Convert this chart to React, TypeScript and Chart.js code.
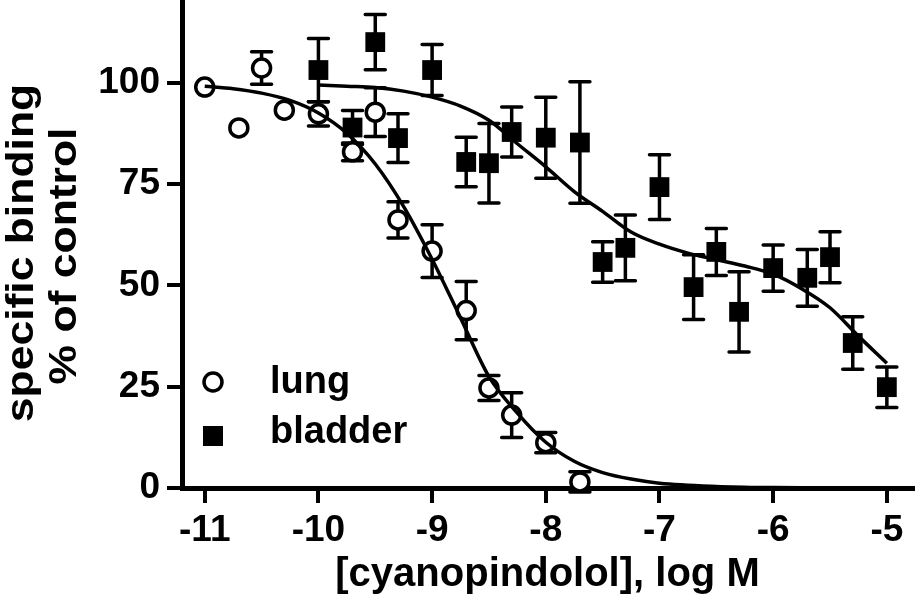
import React, { useEffect, useRef } from 'react';
import { Chart, registerables } from 'chart.js';

Chart.register(...registerables);

const FONT = '"Liberation Sans", Arial, Helvetica, sans-serif';

// measured points (mean +/- error), x = log M
const lungX = [-11, -10.7, -10.5, -10.3, -10, -9.7, -9.5, -9.3, -9, -8.7, -8.5, -8.3, -8, -7.7];
const lungY = [99.0, 88.9, 103.7, 93.3, 92.4, 83.0, 92.8, 66.2, 58.5, 43.8, 24.7, 18.0, 11.2, 1.5];
const lungErr = [0, 0, 4, 0, 3, 2.2, 6, 4.5, 6.5, 7.2, 3.1, 5.5, 2.5, 2.5];

const bladderX = [
  -10, -9.7, -9.5, -9.3, -9, -8.7, -8.5, -8.3, -8, -7.7, -7.5, -7.3, -7, -6.7, -6.5, -6.3, -6, -5.7,
  -5.5, -5.3, -5,
];
const bladderY = [
  103.2, 89.0, 110.1, 86.4, 103.2, 80.5, 80.2, 87.9, 86.5, 85.3, 55.8, 59.3, 74.3, 49.6, 58.3, 43.5,
  54.3, 51.9, 57.0, 35.8, 24.9,
];
const bladderErr = [
  7.8, 4.2, 6.8, 6, 6.3, 6.1, 9.8, 6.2, 10, 15, 5, 8.1, 8, 8, 5.8, 9.9, 5.7, 7, 6.3, 6.5, 5,
];

// fitted curves
const lungFitX = [
  -11, -10.75, -10.5, -10.25, -10, -9.75, -9.5, -9.25, -9, -8.75, -8.5, -8.25, -8, -7.75, -7.5, -7.25,
  -7, -6.5, -6, -5.5, -5,
];
const lungFitY = [
  99.2, 98.6, 97.5, 95.7, 92.6, 87.6, 80, 69.5, 56.5, 42, 27.5, 18.5, 11.3, 6.6, 3.8, 2.2, 1.2, 0.4,
  0.1, 0, 0,
];
const bladderFitX = [
  -10, -9.75, -9.5, -9.25, -9, -8.75, -8.5, -8.25, -8, -7.75, -7.5, -7.25, -7, -6.75, -6.5, -6.25, -6,
  -5.75, -5.5, -5.25, -5,
];
const bladderFitY = [
  99.5, 99.2, 98.9, 98, 96.5, 94.3, 90.8, 85, 79.3, 73.2, 68.3, 63.2, 60.2, 58, 56.4, 54.8, 52.8, 49.2,
  44.5, 37.5, 30.8,
];

const xTicks = [-11, -10, -9, -8, -7, -6, -5];
const yTicks = [0, 25, 50, 75, 100];
const seriesNames = ['lung', 'bladder'];
const xTitle = '[cyanopindolol], log M';
const yTitle = ['specific binding', '% of control'];

const toPoints = (xs: number[], ys: number[]) => xs.map((x, i) => ({ x, y: ys[i] }));

const errorBars = {
  id: 'errorBars',
  beforeDatasetsDraw(chart: any) {
    const { ctx } = chart;
    const xs = chart.scales.x;
    const ys = chart.scales.y;
    const sets: [number[], number[], number[]][] = [
      [lungX, lungY, lungErr],
      [bladderX, bladderY, bladderErr],
    ];
    ctx.save();
    ctx.strokeStyle = '#000';
    ctx.lineWidth = 3.5;
    ctx.lineCap = 'round';
    sets.forEach(([px, py, pe]) => {
      px.forEach((xv, i) => {
        if (!pe[i]) return;
        const x = xs.getPixelForValue(xv);
        const top = ys.getPixelForValue(py[i] + pe[i]);
        const bot = ys.getPixelForValue(py[i] - pe[i]);
        ctx.beginPath();
        ctx.moveTo(x, top);
        ctx.lineTo(x, bot);
        ctx.moveTo(x - 10, top);
        ctx.lineTo(x + 10, top);
        ctx.moveTo(x - 10, bot);
        ctx.lineTo(x + 10, bot);
        ctx.stroke();
      });
    });
    ctx.restore();
  },
};

const legendAndTitle = {
  id: 'legendAndTitle',
  afterDraw(chart: any) {
    const { ctx, chartArea } = chart;
    ctx.save();
    // legend
    const lx = chartArea.left + 31;
    ctx.lineWidth = 3.5;
    ctx.strokeStyle = '#000';
    ctx.fillStyle = '#fff';
    ctx.beginPath();
    ctx.arc(lx, chartArea.bottom - 106, 9, 0, Math.PI * 2);
    ctx.fill();
    ctx.stroke();
    ctx.fillStyle = '#000';
    ctx.fillRect(lx - 10, chartArea.bottom - 62, 20, 20);
    ctx.font = `bold 38px ${FONT}`;
    ctx.textAlign = 'left';
    ctx.textBaseline = 'alphabetic';
    ctx.fillText(seriesNames[0], chartArea.left + 88, chartArea.bottom - 95);
    ctx.fillText(seriesNames[1], chartArea.left + 88, chartArea.bottom - 45);

    // y axis title, two lines
    ctx.textAlign = 'center';
    ctx.font = `bold 38px ${FONT}`;
    [
      [33, 253],
      [76, 256],
    ].forEach(([tx, ty], i) => {
      ctx.save();
      ctx.translate(tx, ty);
      ctx.rotate(-Math.PI / 2);
      ctx.scale(1.17, 1);
      ctx.fillText(yTitle[i], 0, 0);
      ctx.restore();
    });
    ctx.restore();
  },
};

const App: React.FC = () => {
  const canvasRef = useRef<HTMLCanvasElement | null>(null);
  const chartInstance = useRef<Chart | null>(null);

  useEffect(() => {
    const canvas = canvasRef.current;
    if (!canvas) return;
    const ctx = canvas.getContext('2d');
    if (!ctx) return;

    if (chartInstance.current) chartInstance.current.destroy();

    const tickFont = { family: FONT, size: 37, weight: 'bold' as const };

    chartInstance.current = new Chart(ctx, {
      type: 'scatter',
      data: {
        datasets: [
          {
            label: 'lung fit',
            data: toPoints(lungFitX, lungFitY),
            showLine: true,
            borderColor: '#000',
            borderWidth: 3.5,
            pointRadius: 0,
            cubicInterpolationMode: 'monotone',
            fill: false,
            order: 0,
          },
          {
            label: 'bladder fit',
            data: toPoints(bladderFitX, bladderFitY),
            showLine: true,
            borderColor: '#000',
            borderWidth: 3.5,
            pointRadius: 0,
            cubicInterpolationMode: 'monotone',
            fill: false,
            order: 0,
          },
          {
            label: seriesNames[0],
            data: toPoints(lungX, lungY),
            pointStyle: 'circle',
            pointRadius: 9,
            borderWidth: 3.5,
            borderColor: '#000',
            backgroundColor: '#fff',
            clip: false,
            order: 1,
          },
          {
            label: seriesNames[1],
            data: toPoints(bladderX, bladderY),
            pointStyle: 'rect',
            pointRadius: 14,
            borderWidth: 0,
            backgroundColor: '#000',
            clip: false,
            order: 1,
          },
        ],
      },
      options: {
        responsive: true,
        maintainAspectRatio: false,
        animation: false,
        events: [],
        layout: { autoPadding: false, padding: { top: 2, right: 2, left: 0, bottom: 0 } },
        plugins: {
          legend: { display: false },
          tooltip: { enabled: false },
        },
        scales: {
          x: {
            type: 'linear',
            min: -11.2,
            max: -4.77,
            afterBuildTicks: (s: any) => {
              s.ticks = xTicks.map((v) => ({ value: v }));
            },
            afterFit: (s: any) => {
              s.height = 113;
              s.paddingLeft = 0;
              s.paddingRight = 0;
            },
            ticks: {
              color: '#000',
              font: tickFont,
              padding: 6,
              maxRotation: 0,
              autoSkip: false,
              callback: (v: any) => String(v),
            },
            grid: {
              display: true,
              drawOnChartArea: false,
              drawTicks: true,
              tickLength: 15,
              lineWidth: 4,
              color: '#000',
            },
            border: { display: true, width: 5, color: '#000' },
            title: {
              display: true,
              text: xTitle,
              color: '#000',
              font: { family: FONT, size: 40, weight: 'bold', lineHeight: 1 },
              padding: { top: 6, bottom: 6 },
            },
          },
          y: {
            type: 'linear',
            min: 0,
            max: 120,
            afterBuildTicks: (s: any) => {
              s.ticks = yTicks.map((v) => ({ value: v }));
            },
            afterFit: (s: any) => {
              s.width = 182;
              s.paddingTop = 0;
              s.paddingBottom = 0;
            },
            ticks: {
              color: '#000',
              font: tickFont,
              padding: 7,
              autoSkip: false,
              callback: (v: any) => String(v),
            },
            grid: {
              display: true,
              drawOnChartArea: false,
              drawTicks: true,
              tickLength: 15,
              lineWidth: 4,
              color: '#000',
            },
            border: { display: true, width: 5, color: '#000' },
          },
        },
      },
      plugins: [errorBars, legendAndTitle],
    });

    return () => {
      if (chartInstance.current) {
        chartInstance.current.destroy();
        chartInstance.current = null;
      }
    };
  }, []);

  return (
    <div style={{ position: 'absolute', left: 0, top: 0, width: '915px', height: '601px' }}>
      <canvas ref={canvasRef}></canvas>
    </div>
  );
};

export default App;
